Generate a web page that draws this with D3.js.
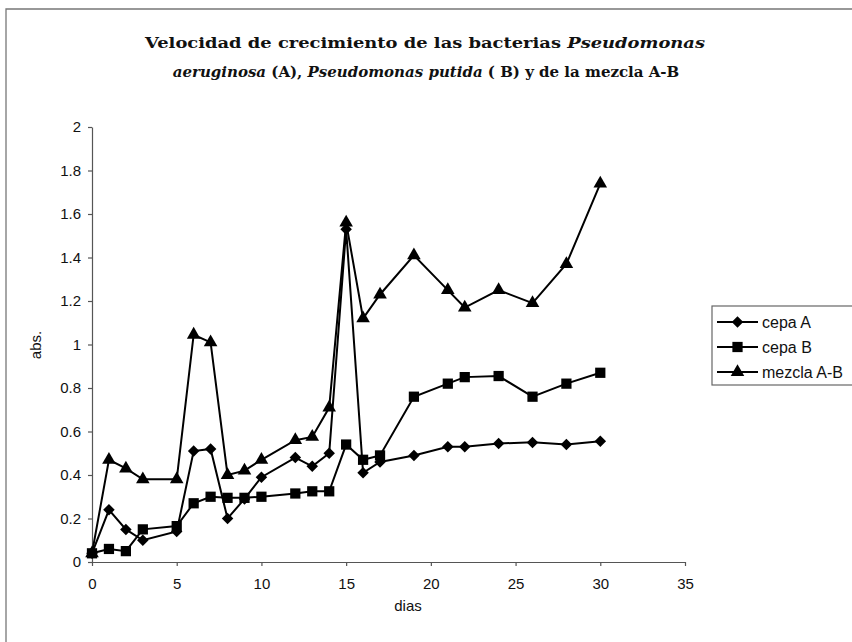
<!DOCTYPE html>
<html><head><meta charset="utf-8">
<script src="https://cdn.jsdelivr.net/npm/d3@7/dist/d3.min.js"></script>
<style>body{margin:0;background:#fff}svg{display:block}</style>
</head><body>
<svg id="chart" width="852" height="642"></svg>
<script>
const dias = [0,1,2,3,5,6,7,8,9,10,12,13,14,15,16,17,19,21,22,24,26,28,30];
const cepaA = [0.04,0.24,0.15,0.10,0.14,0.51,0.52,0.20,0.29,0.39,0.48,0.44,0.50,1.53,0.41,0.46,0.49,0.53,0.53,0.545,0.55,0.54,0.555];
const cepaB = [0.04,0.06,0.05,0.15,0.165,0.27,0.30,0.295,0.295,0.30,0.315,0.325,0.325,0.54,0.47,0.49,0.76,0.82,0.85,0.855,0.76,0.82,0.87];
const mezcla = [0.04,0.47,0.43,0.38,0.38,1.045,1.01,0.40,0.42,0.47,0.56,0.575,0.71,1.56,1.12,1.23,1.41,1.25,1.17,1.25,1.19,1.37,1.74];
const xTicks = [0,5,10,15,20,25,30,35];
const yTicks = [0,0.2,0.4,0.6,0.8,1,1.2,1.4,1.6,1.8,2];
const seriesNames = ["cepa A","cepa B","mezcla A-B"];

const diamond = { draw(ctx, size){ const r = Math.sqrt(size)/2*1.15; ctx.moveTo(0,-r); ctx.lineTo(r,0); ctx.lineTo(0,r); ctx.lineTo(-r,0); ctx.closePath(); } };
const seriesSymbols = [diamond, d3.symbolSquare, d3.symbolTriangle];
const seriesSizes = [100, 105, 80];

const svg = d3.select("#chart");
const x = d3.scaleLinear().domain([0,35]).range([92,685]);
const y = d3.scaleLinear().domain([0,2]).range([562,127]);

// outer frame
svg.append("path").attr("d","M6,642 L6,9 L852,9").attr("fill","none").attr("stroke","#777").attr("stroke-width",1.3);

// title
const tStyle = (s, fs) => s.style("font-family","'DejaVu Serif', serif").style("font-weight","bold").style("font-size",fs).attr("fill","#111");
const t1 = svg.append("text").attr("x",145).attr("y",48).attr("textLength",560).attr("lengthAdjust","spacingAndGlyphs").call(tStyle,"15.5px");
t1.append("tspan").text("Velocidad de crecimiento de las bacterias ");
t1.append("tspan").style("font-style","italic").text("Pseudomonas");
const t2 = svg.append("text").attr("x",426).attr("y",77).attr("text-anchor","middle").call(tStyle,"15px");
t2.append("tspan").style("font-style","italic").text("aeruginosa");
t2.append("tspan").text(" (A), ");
t2.append("tspan").style("font-style","italic").text("Pseudomonas putida");
t2.append("tspan").text(" ( B) y de la mezcla A-B");

// axes
const axFont = "'Liberation Sans', Arial, sans-serif";
const yAxis = svg.append("g").attr("transform","translate(92,0)")
  .call(d3.axisLeft(y).tickValues(yTicks).tickSize(4).tickSizeOuter(0).tickPadding(7).tickFormat(d3.format("~g")));
const xAxis = svg.append("g").attr("transform","translate(0,562)")
  .call(d3.axisBottom(x).tickValues(xTicks).tickSize(4).tickSizeOuter(0).tickPadding(12));
[yAxis,xAxis].forEach(a=>{
  a.selectAll("path,line").attr("stroke","#555").attr("stroke-width",1.2);
  a.selectAll("text").style("font-family",axFont).style("font-size","15px").attr("fill","#111");
});

svg.append("text").attr("transform","translate(41,345) rotate(-90)").attr("text-anchor","middle")
  .style("font-family",axFont).style("font-size","15px").attr("fill","#111").text("abs.");
svg.append("text").attr("x",408).attr("y",611).attr("text-anchor","middle")
  .style("font-family",axFont).style("font-size","15px").attr("fill","#111").text("dias");

// series
const allSeries = [cepaA, cepaB, mezcla];
const line = d3.line().x(d=>x(d[0])).y(d=>y(d[1]));
allSeries.forEach((vals,i)=>{
  const pts = dias.map((d,j)=>[d, vals[j]]);
  const g = svg.append("g");
  g.append("path").datum(pts).attr("d",line).attr("fill","none").attr("stroke","#000").attr("stroke-width",2);
  g.selectAll("path.m").data(pts).join("path").attr("class","m")
    .attr("transform",d=>`translate(${x(d[0])},${y(d[1])})`)
    .attr("d",d3.symbol().type(seriesSymbols[i]).size(seriesSizes[i])).attr("fill","#000");
});

// legend
const lg = svg.append("g");
lg.append("rect").attr("x",712).attr("y",306).attr("width",150).attr("height",79)
  .attr("fill","#fff").attr("stroke","#666").attr("stroke-width",1.2);
seriesNames.forEach((n,i)=>{
  const yy = 322 + i*25;
  lg.append("line").attr("x1",717).attr("x2",758).attr("y1",yy).attr("y2",yy).attr("stroke","#000").attr("stroke-width",2);
  lg.append("path").attr("transform",`translate(737.5,${yy})`).attr("d",d3.symbol().type(seriesSymbols[i]).size(seriesSizes[i])).attr("fill","#000");
  lg.append("text").attr("x",762).attr("y",yy+5.5).style("font-family",axFont).style("font-size","16px").attr("fill","#111").text(n);
});
</script>
</body></html>
